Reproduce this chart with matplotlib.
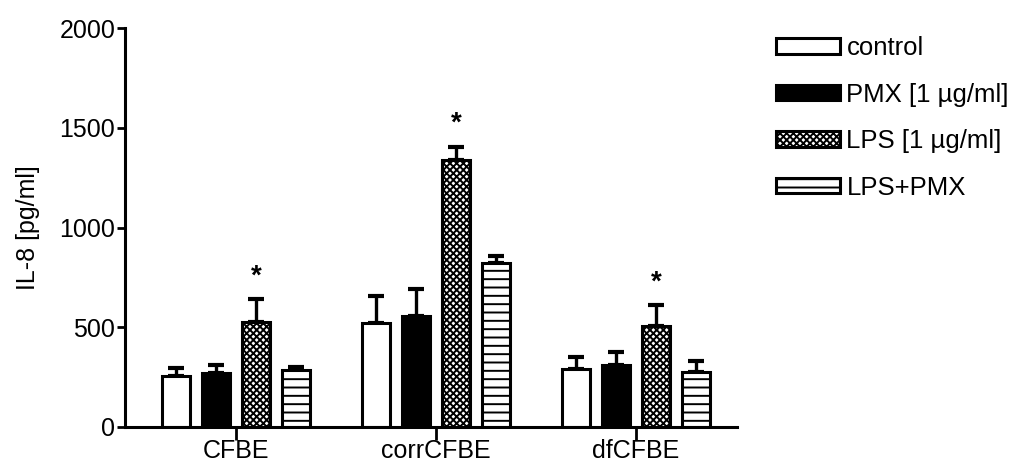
import matplotlib
matplotlib.use("Agg")
import matplotlib.pyplot as plt
import numpy as np

plt.rcParams['font.family'] = ['Liberation Sans', 'DejaVu Sans']
plt.rcParams['hatch.linewidth'] = 1.4

categories = ['CFBE', 'corrCFBE', 'dfCFBE']
series = ['control', 'PMX [1 µg/ml]', 'LPS [1 µg/ml]', 'LPS+PMX']
means = {
    'control':        [255, 520, 290],
    'PMX [1 µg/ml]':  [270, 555, 310],
    'LPS [1 µg/ml]':  [525, 1340, 505],
    'LPS+PMX':        [285, 820, 275],
}
errors = {
    'control':        [40, 135, 60],
    'PMX [1 µg/ml]':  [40, 135, 65],
    'LPS [1 µg/ml]':  [115, 65, 105],
    'LPS+PMX':        [15, 35, 55],
}
significant = {'LPS [1 µg/ml]': [True, True, True]}

styles = {
    'control':        dict(facecolor='white', hatch=None),
    'PMX [1 µg/ml]':  dict(facecolor='black', hatch=None),
    'LPS [1 µg/ml]':  dict(facecolor='white', hatch='xxxxx'),
    'LPS+PMX':        dict(facecolor='white', hatch='--'),
}

fig = plt.figure(figsize=(10.18, 4.66), dpi=100)
ax = fig.add_axes([0.1228, 0.0837, 0.601, 0.856])

x = np.arange(len(categories))
spacing = 0.2
width = 0.14
handles = []
for i, s in enumerate(series):
    pos = x + (i - 1.5) * spacing
    st = styles[s]
    ax.errorbar(pos, means[s], yerr=[np.zeros(3), errors[s]], fmt='none',
                ecolor='black', elinewidth=2.4, capsize=6, capthick=3, zorder=1)
    bars = ax.bar(pos, means[s], width=width, facecolor=st['facecolor'],
                  edgecolor='black', linewidth=2.2, hatch=st['hatch'], zorder=2, label=s)
    handles.append(bars)
    if s in significant:
        for p, m, e, sig in zip(pos, means[s], errors[s], significant[s]):
            if sig:
                ax.text(p, m + e + 50, '*', ha='center', va='bottom',
                        fontsize=20, fontweight='bold')

ax.set_xlim(-0.555, 2.505)
ax.set_ylim(0, 2000)
ax.set_yticks([0, 500, 1000, 1500, 2000])
ax.set_xticks(x)
ax.set_xticklabels(categories)
ax.set_ylabel('IL-8 [pg/ml]', fontsize=18, labelpad=14)
for sp in ['top', 'right']:
    ax.spines[sp].set_visible(False)
for sp in ['left', 'bottom']:
    ax.spines[sp].set_linewidth(2.2)
ax.tick_params(axis='y', length=6, width=2, labelsize=18, pad=1)
ax.tick_params(axis='x', length=9, width=2, labelsize=18, pad=0)

leg = fig.legend(handles=handles, labels=series, loc='upper left',
                 bbox_to_anchor=(0.752, 0.945), frameon=False, fontsize=18.5,
                 handlelength=2.5, handleheight=0.55, handletextpad=0.25,
                 labelspacing=0.88, borderaxespad=0)

fig.savefig('out.png', dpi=100)
